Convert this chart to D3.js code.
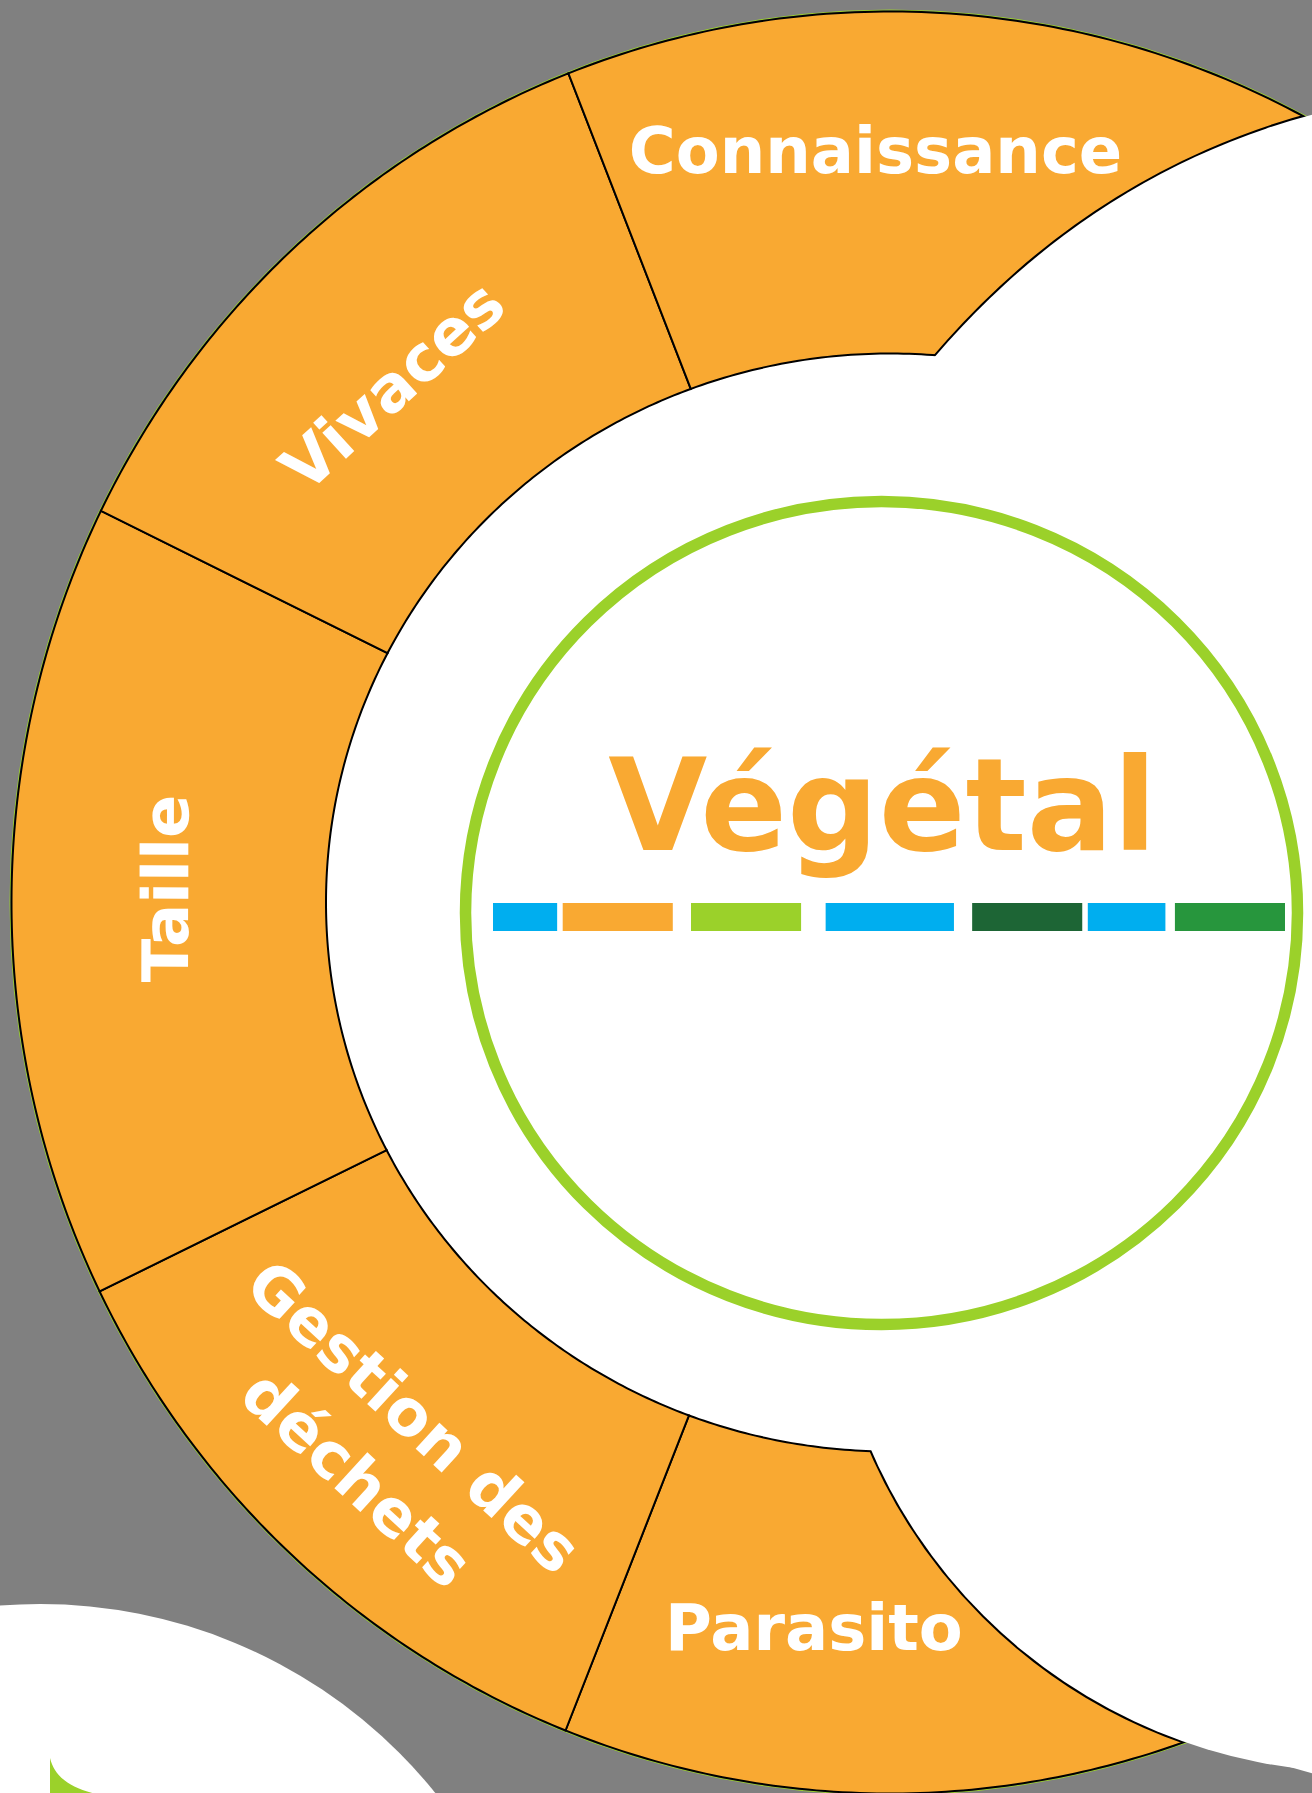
<!DOCTYPE html>
<html>
<head>
<meta charset="utf-8">
<script src="https://cdn.jsdelivr.net/npm/d3@7"></script>
<style>
html, body { margin: 0; padding: 0; background: #808080; }
#chart { width: 1312px; height: 1793px; overflow: hidden; }
text { font-family: "DejaVu Sans", sans-serif; font-weight: bold; }
</style>
</head>
<body>
<div id="chart"></div>
<script>
// Data
var categories = ["Parasito", "Gestion des déchets", "Taille", "Vivaces", "Connaissance"];
var labelLines = [["Parasito"], ["Gestion des", "déchets"], ["Taille"], ["Vivaces"], ["Connaissance"]];
var spans = [50, 42.4, 52.6, 42.4, 55];          // degrees taken by each segment
var firstAngle = -208.6;                          // where the first segment starts
var centerTitle = "Végétal";
var barColors = ["#00AEEF", "#F9A932", "#9BD12A", "#00AEEF", "#1D6535", "#00AEEF", "#27963D"];
var barStarts = [0, 8.8, 25, 42, 60.5, 75.1, 86.1];
var barEnds = [8.1, 22.7, 38.9, 58.2, 74.4, 84.9, 100];

// General settings
var width = 1312, height = 1793;
var rad = Math.PI / 180;
var orange = "#F9A932", lime = "#9BD12A";
var ring = {cx: 890, cy: 902.5, outerRx: 878.5, outerRy: 891, innerRx: 564, innerRy: 549};
var bubble = {cx: 881.5, cy: 913, rx: 416, ry: 411.5};

var svg = d3.select("#chart")
    .append("svg")
    .attr("width", width)
    .attr("height", height);

svg.append("rect").attr("width", width).attr("height", height).attr("fill", "#808080");

// bottom left neighbour
svg.append("circle").attr("cx", 40).attr("cy", 2112).attr("r", 508).attr("fill", "#fff");
var gp = d3.path();
gp.moveTo(50, 1758);
gp.bezierCurveTo(55, 1778, 72, 1791, 112, 1797);
gp.lineTo(50, 1800);
gp.closePath();
svg.append("path").attr("d", gp.toString()).attr("fill", lime);

// elliptic radius at angle a (d3 convention, clockwise from 12 o'clock)
function ellipseR(a, rx, ry) {
    var s = Math.sin(a), c = Math.cos(a);
    return 1 / Math.sqrt(s * s / (rx * rx) + c * c / (ry * ry));
}

var radial = d3.lineRadial().angle(p => p[0]).radius(p => p[1]);

function segmentPath(d) {
    var n = 90;
    var angles = d3.range(n + 1).map(i => d.startAngle + (d.endAngle - d.startAngle) * i / n);
    var pts = angles.map(a => [a, ellipseR(a, ring.outerRx, ring.outerRy)])
        .concat(angles.slice().reverse().map(a => [a, ellipseR(a, ring.innerRx, ring.innerRy)]));
    return radial(pts) + "Z";
}

var pie = d3.pie().sort(null).value(d => d)
    .startAngle(firstAngle * rad)
    .endAngle((firstAngle + d3.sum(spans)) * rad);
var arcs = pie(spans);

var ringG = svg.append("g").attr("transform", `translate(${ring.cx},${ring.cy})`);

// hole of the ring
ringG.append("ellipse").attr("rx", ring.innerRx).attr("ry", ring.innerRy).attr("fill", "#fff");
// thin green rim
ringG.append("ellipse").attr("rx", ring.outerRx + 1.5).attr("ry", ring.outerRy + 1.5)
    .attr("fill", "none").attr("stroke", lime).attr("stroke-width", 1);

ringG.selectAll(".segment")
    .data(arcs).enter()
    .append("path")
    .attr("class", "segment")
    .attr("d", segmentPath)
    .attr("fill", orange)
    .attr("stroke", "#000")
    .attr("stroke-width", 2);

// neighbours on the right cut the ring
var cutters = [
    {cx: 1487, cy: 944, rx: 762, ry: 852},
    {cx: 1362, cy: 1237.2, rx: 535.1, ry: 535.1}
];
svg.append("clipPath").attr("id", "ringClip")
    .attr("transform", `translate(${ring.cx},${ring.cy})`)
    .selectAll("path").data(arcs).enter()
    .append("path").attr("d", segmentPath);

svg.append("g").attr("clip-path", "url(#ringClip)")
    .selectAll("ellipse").data(cutters).enter()
    .append("ellipse")
    .attr("cx", d => d.cx).attr("cy", d => d.cy)
    .attr("rx", d => d.rx).attr("ry", d => d.ry)
    .attr("fill", "none").attr("stroke", "#000").attr("stroke-width", 4);

svg.append("g")
    .selectAll("ellipse").data(cutters).enter()
    .append("ellipse")
    .attr("cx", d => d.cx).attr("cy", d => d.cy)
    .attr("rx", d => d.rx).attr("ry", d => d.ry)
    .attr("fill", "#fff");

// labels
var labelPlace = [
    {angle: 186, r: 728, flat: true},
    {angle: -137.2, r: 742, flat: false},
    {angle: -88.9, r: 725, flat: false},
    {angle: -43.9, r: 718, flat: false},
    {angle: -1.1, r: 753, flat: true}
];
var fontSize = 64, lineGap = 84;

ringG.selectAll(".label")
    .data(arcs).enter()
    .append("text")
    .attr("class", "label")
    .attr("fill", "#fff")
    .attr("font-size", fontSize)
    .attr("text-anchor", "middle")
    .attr("transform", function (d, i) {
        var p = labelPlace[i];
        var a = p.angle;
        var mid = (d.startAngle + d.endAngle) / 2 / rad;
        var x = p.r * Math.sin(a * rad), y = -p.r * Math.cos(a * rad);
        var rot = 0;
        if (!p.flat) {
            rot = mid;
            if (mid < -90 && mid > -270) rot = mid + 180;
        }
        return `translate(${x},${y}) rotate(${rot})`;
    })
    .each(function (d, i) {
        var lines = labelLines[i];
        var t = d3.select(this);
        lines.forEach(function (s, k) {
            t.append("tspan")
                .attr("x", 0)
                .attr("y", (k - (lines.length - 1) / 2) * lineGap)
                .attr("dy", "0.36em")
                .text(s);
        });
    });

// center bubble
svg.append("ellipse")
    .attr("cx", bubble.cx).attr("cy", bubble.cy).attr("rx", bubble.rx).attr("ry", bubble.ry)
    .attr("fill", "#fff").attr("stroke", lime).attr("stroke-width", 11.5);

svg.append("text")
    .attr("x", 882.5).attr("y", 850)
    .attr("text-anchor", "middle")
    .attr("font-size", 128)
    .attr("fill", orange)
    .text(centerTitle);

var barX = d3.scaleLinear().domain([0, 100]).range([493, 1285]);
svg.selectAll(".bar")
    .data(barColors).enter()
    .append("rect")
    .attr("class", "bar")
    .attr("x", (d, i) => barX(barStarts[i]))
    .attr("width", (d, i) => barX(barEnds[i]) - barX(barStarts[i]))
    .attr("y", 903)
    .attr("height", 28)
    .attr("fill", d => d);
</script>
</body>
</html>
